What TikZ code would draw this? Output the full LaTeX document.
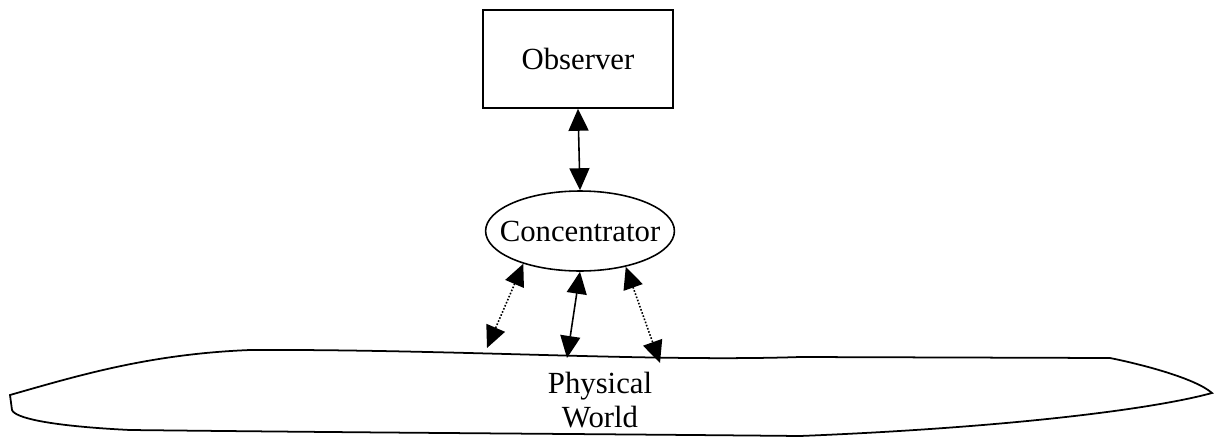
\documentclass[tikz,border=0pt]{standalone}
\usepackage{fontspec}
\setmainfont{Liberation Serif}
\usetikzlibrary{shapes.geometric, arrows.meta, positioning}

\begin{document}
\begin{tikzpicture}[
    x=0.02cm, y=-0.02cm,
    every node/.style={font=\fontsize{17.5}{21}\selectfont},
    box/.style={draw, line width=0.9pt, minimum width=3.8cm, minimum height=1.96cm},
    hub/.style={draw, ellipse, line width=0.9pt, inner xsep=-0.27cm, inner ysep=0pt, minimum height=1.6cm},
    link/.style={draw, line width=0.9pt, {Triangle[length=0.44cm, width=0.4cm]}-{Triangle[length=0.44cm, width=0.4cm]}},
    dotlink/.style={link, densely dotted}
]
    \useasboundingbox (0,0) rectangle (1214,440);

    % Nodes
    \node[box] (obs) at (578,59) {Observer};
    \node[hub] (conc) at (580,231) {Concentrator};

    % Physical world outline
    \draw[line width=1pt] (10,395) .. controls (80,375) and (150,354) .. (250,350)
        .. controls (450,349) and (650,362) .. (800,357)
        -- (1110,358)
        .. controls (1140,364) and (1195,378) .. (1212,393)
        .. controls (1150,410) and (1000,428) .. (800,436)
        .. controls (600,434) and (400,433) .. (130,430)
        .. controls (50,426) and (15,418) .. (12,410) -- cycle;
    \node[align=center] (world) at (600,400) {Physical\\[-2pt]World};

    % Connector ends on the world
    \coordinate (w1) at (487,348);
    \coordinate (w2) at (567,358);
    \coordinate (w3) at (660,363);

    % Links
    \draw[link] (obs.south) -- (conc.north);
    \draw[dotlink] (conc.-150) -- (w1);
    \draw[link] (conc.-90) -- (w2);
    \draw[dotlink] (conc.-38) -- (w3);

\end{tikzpicture}
\end{document}
